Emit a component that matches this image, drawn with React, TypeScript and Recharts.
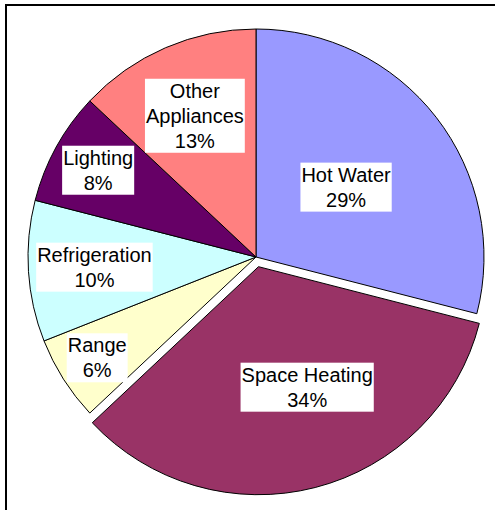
import { PieChart, Pie, Cell } from "recharts";

const categories = [
  "Hot Water",
  "Space Heating",
  "Range",
  "Refrigeration",
  "Lighting",
  "Other Appliances",
];
const shares = [29, 34, 6, 10, 8, 13];
const colors = ["#9999FF", "#993366", "#FFFFCC", "#CCFFFF", "#660066", "#FF8080"];
const explodedName = "Space Heating";

// where Excel put the labels: distance as a fraction of the radius, and a small turn (deg)
const labelRadius = [0.5, 0.57, 0.825, 0.71, 0.79, 0.675];
const labelTurn = [0, 7.6, 0, 0, 0, 0];

const data = categories.map((name, i) => ({ name, value: shares[i] }));

const CX = 256;
const CY = 257;
const R = 228;
const EXPLODE = 10;
const FONT = "'Liberation Sans', Arial, sans-serif";
const FONT_SIZE = 20;
const LINE_H = 25;

const RAD = Math.PI / 180;

// direction of the exploded slice, from its share of the circle
const explodedIdx = categories.indexOf(explodedName);
const before = shares.slice(0, explodedIdx).reduce((a, b) => a + b, 0);
const total = shares.reduce((a, b) => a + b, 0);
const midCw = ((before + shares[explodedIdx] / 2) / total) * 360;
const offX = EXPLODE * Math.sin(midCw * RAD);
const offY = -EXPLODE * Math.cos(midCw * RAD);

let ctx: CanvasRenderingContext2D | null = null;
function textWidth(s: string) {
  if (!ctx) ctx = document.createElement("canvas").getContext("2d");
  if (!ctx) return s.length * FONT_SIZE * 0.55;
  ctx.font = `${FONT_SIZE}px ${FONT}`;
  return ctx.measureText(s).width;
}

function splitName(name: string) {
  if (name === "Other Appliances") return ["Other", "Appliances"];
  return [name];
}

function makeLabel(showExploded: boolean) {
  return (props: any) => {
    const { cx, cy, midAngle, outerRadius, index, name, value } = props;
    const isExploded = name === explodedName;
    if (isExploded !== showExploded) return <g />;
    const a = (midAngle + labelTurn[index]) * RAD;
    const r = outerRadius * labelRadius[index];
    const x = cx + r * Math.cos(a);
    const y = cy - r * Math.sin(a);
    const lines = [...splitName(name), `${value}%`];
    const w = Math.max(...lines.map(textWidth)) + 2;
    const h = lines.length * LINE_H - 1;
    const top = y - h / 2;
    return (
      <g>
        <rect x={x - w / 2} y={top} width={w} height={h} fill="#fff" />
        <text
          x={x}
          textAnchor="middle"
          fontFamily={FONT}
          fontSize={FONT_SIZE}
          fill="#000"
        >
          {lines.map((l, i) => (
            <tspan key={i} x={x} y={top + 19 + i * LINE_H}>
              {l}
            </tspan>
          ))}
        </text>
      </g>
    );
  };
}

export default function App() {
  return (
    <div
      style={{
        position: "absolute",
        left: 0,
        top: 0,
        width: 495,
        height: 510,
        overflow: "hidden",
        background: "#fff",
      }}
    >
      <div
        style={{
          position: "absolute",
          left: 5,
          top: 4,
          width: 600,
          height: 600,
          border: "2px solid #000",
          boxSizing: "border-box",
        }}
      />
      <div style={{ position: "absolute", left: 0, top: 0 }}>
        <PieChart
          width={495}
          height={510}
          margin={{ top: 0, right: 0, bottom: 0, left: 0 }}
        >
          <Pie
            data={data}
            dataKey="value"
            nameKey="name"
            cx={CX}
            cy={CY}
            outerRadius={R}
            startAngle={90}
            endAngle={-270}
            stroke="#000"
            strokeWidth={1}
            labelLine={false}
            label={makeLabel(false)}
            isAnimationActive={false}
          >
            {data.map((d, i) => (
              <Cell
                key={i}
                fill={d.name === explodedName ? "none" : colors[i]}
                stroke={d.name === explodedName ? "none" : "#000"}
              />
            ))}
          </Pie>
          <Pie
            data={data}
            dataKey="value"
            nameKey="name"
            cx={CX + offX}
            cy={CY + offY}
            outerRadius={R}
            startAngle={90}
            endAngle={-270}
            stroke="#000"
            strokeWidth={1}
            labelLine={false}
            label={makeLabel(true)}
            isAnimationActive={false}
          >
            {data.map((d, i) => (
              <Cell
                key={i}
                fill={d.name === explodedName ? colors[i] : "none"}
                stroke={d.name === explodedName ? "#000" : "none"}
              />
            ))}
          </Pie>
        </PieChart>
      </div>
    </div>
  );
}
